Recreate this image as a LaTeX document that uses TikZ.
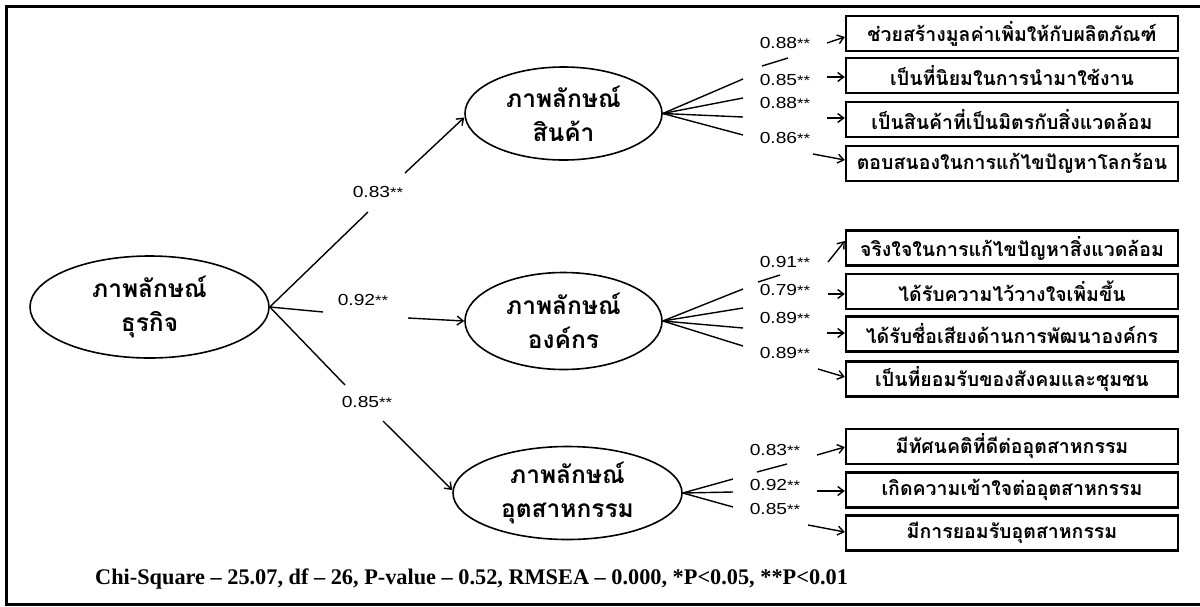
\documentclass[tikz,border=0pt]{standalone}
\usepackage{fontspec}
\setmainfont{Liberation Serif}
\newfontfamily\thaifont[Script=Thai]{Loma}
\newfontfamily\numfont[FakeStretch=1.2]{Liberation Sans}
\usetikzlibrary{arrows.meta,shapes.geometric}
\newcommand{\twostar}{{\fontsize{14}{14}\selectfont\raisebox{0.5pt}{**}}}
\tikzset{
  latent/.style={ellipse, draw, line width=1.6pt, inner sep=0pt, align=center,
    font=\thaifont\bfseries\fontsize{24.5}{34}\selectfont},
  obs/.style={rectangle, draw, line width=2.4pt, minimum width=332pt, minimum height=35pt,
    inner sep=0pt, font=\thaifont\bfseries\fontsize{19.5}{20}\selectfont},
  conn/.style={line width=1.4pt},
  arr/.style={line width=1.4pt, -{Straight Barb[length=6pt,width=9pt,line width=1.4pt]}},
  coef/.style={font=\numfont\fontsize{16}{16}\selectfont, inner sep=0pt},
  frame/.style={line width=3pt}
}
\begin{document}
\begin{tikzpicture}[x=1pt,y=-1pt]
\useasboundingbox (0,0) rectangle (1200,606);
\draw[frame] (6,6) rectangle (1212,604);

% latent variables
\node[latent, minimum width=239pt, minimum height=102pt] (main) at (149.5,307) {ภาพลักษณ์\\ธุรกิจ};
\node[latent, minimum width=197pt, minimum height=93pt] (e2) at (563.5,113.5) {ภาพลักษณ์\\สินค้า};
\node[latent, minimum width=197pt, minimum height=97pt] (e3) at (563.5,321) {ภาพลักษณ์\\องค์กร};
\node[latent, minimum width=229pt, minimum height=93pt] (e4) at (567.5,493) {ภาพลักษณ์\\อุตสาหกรรม};

% observed variables
\node[obs] (b1) at (1012,33.5) {ช่วยสร้างมูลค่าเพิ่มให้กับผลิตภัณฑ์};
\node[obs] (b2) at (1012,75.5) {เป็นที่นิยมในการนำมาใช้งาน};
\node[obs] (b3) at (1012,119.5) {เป็นสินค้าที่เป็นมิตรกับสิ่งแวดล้อม};
\node[obs] (b4) at (1012,163.5) {ตอบสนองในการแก้ไขปัญหาโลกร้อน};
\node[obs] (b5) at (1012,248) {จริงใจในการแก้ไขปัญหาสิ่งแวดล้อม};
\node[obs] (b6) at (1012,291.5) {ได้รับความไว้วางใจเพิ่มขึ้น};
\node[obs] (b7) at (1012,334) {ได้รับชื่อเสียงด้านการพัฒนาองค์กร};
\node[obs] (b8) at (1012,379) {เป็นที่ยอมรับของสังคมและชุมชน};
\node[obs] (b9) at (1012,446.5) {มีทัศนคติที่ดีต่ออุตสาหกรรม};
\node[obs] (b10) at (1012,490) {เกิดความเข้าใจต่ออุตสาหกรรม};
\node[obs] (b11) at (1012,533) {มีการยอมรับอุตสาหกรรม};

% structural paths
\coordinate (sa1) at (368,212); \coordinate (sa2) at (405,173);
\coordinate (sb1) at (323,312); \coordinate (sb2) at (408,318);
\coordinate (sc1) at (345,385); \coordinate (sc2) at (383,421);
\draw[conn] (main.east) -- (sa1);
\draw[arr] (sa2) -- ([yshift=-4pt]e2.west);
\draw[conn] (main.east) -- (sb1);
\draw[arr] (sb2) -- (e3.west);
\draw[conn] (main.east) -- (sc1);
\draw[arr] (sc2) -- ([yshift=3pt]e4.west);
\node[coef] (la) at (378,192) {0.83\twostar};
\node[coef] (lb) at (363,300) {0.92\twostar};
\node[coef] (lc) at (367,402) {0.85\twostar};

% group 1
\coordinate (g1a) at (743,79); \coordinate (g1b) at (743,98);
\coordinate (g1c) at (743,117); \coordinate (g1d) at (743,135);
\draw[conn] (e2.east) -- (g1a);
\draw[conn] (e2.east) -- (g1b);
\draw[conn] (e2.east) -- (g1c);
\draw[conn] (e2.east) -- (g1d);
\coordinate (t1a) at (762,66); \coordinate (t1b) at (788,58);
\draw[conn] (t1a) -- (t1b);
\coordinate (h1) at (827,43); \coordinate (h2) at (827,77);
\coordinate (h3) at (827,118); \coordinate (h4) at (813,154);
\draw[arr] (h1) -- ([yshift=-3.5pt]b1.west);
\draw[arr] (h2) -- ([yshift=-1.5pt]b2.west);
\draw[arr] (h3) -- ([yshift=1.5pt]b3.west);
\draw[arr] (h4) -- ([yshift=3.5pt]b4.west);
\node[coef] (l1) at (785,43) {0.88\twostar};
\node[coef] (l2) at (785,80) {0.85\twostar};
\node[coef] (l3) at (785,103) {0.88\twostar};
\node[coef] (l4) at (785,138) {0.86\twostar};

% group 2
\coordinate (g2a) at (743,289); \coordinate (g2b) at (743,308);
\coordinate (g2c) at (743,328); \coordinate (g2d) at (743,346);
\draw[conn] (e3.east) -- (g2a);
\draw[conn] (e3.east) -- (g2b);
\draw[conn] (e3.east) -- (g2c);
\draw[conn] (e3.east) -- (g2d);
\coordinate (t2a) at (758,282); \coordinate (t2b) at (780,275);
\draw[conn] (t2a) -- (t2b);
\coordinate (h5) at (828,262); \coordinate (h6) at (828,294);
\coordinate (h7) at (827,333); \coordinate (h8) at (818,369);
\draw[arr] (h5) -- ([yshift=7pt]b5.west);
\draw[arr] (h6) -- ([yshift=-2.5pt]b6.west);
\draw[arr] (h7) -- ([yshift=1pt]b7.west);
\draw[arr] (h8) -- ([yshift=2pt]b8.west);
\node[coef] (l5) at (785,262) {0.91\twostar};
\node[coef] (l6) at (785,290) {0.79\twostar};
\node[coef] (l7) at (785,318) {0.89\twostar};
\node[coef] (l8) at (785,353) {0.89\twostar};

% group 3
\coordinate (g3a) at (733,479); \coordinate (g3b) at (733,492);
\coordinate (g3c) at (733,507);
\draw[conn] (e4.east) -- (g3a);
\draw[conn] (e4.east) -- (g3b);
\draw[conn] (e4.east) -- (g3c);
\coordinate (t3a) at (757,472); \coordinate (t3b) at (787,464);
\draw[conn] (t3a) -- (t3b);
\coordinate (h9) at (817,455); \coordinate (h10) at (817,491);
\coordinate (h11) at (808,525);
\draw[arr] (h9) -- ([yshift=-0.5pt]b9.west);
\draw[arr] (h10) -- ([yshift=-1pt]b10.west);
\draw[arr] (h11) -- ([yshift=1pt]b11.west);
\node[coef] (l9) at (775,450) {0.83\twostar};
\node[coef] (l10) at (775,485) {0.92\twostar};
\node[coef] (l11) at (775,509) {0.85\twostar};

% fit statistics
\node[font=\bfseries\fontsize{22.3}{22.3}\selectfont, anchor=west, inner sep=0pt] (fit) at (95,579)
  {Chi-Square -- 25.07, df -- 26, P-value -- 0.52, RMSEA -- 0.000, *P<0.05, **P<0.01};
\end{tikzpicture}
\end{document}
